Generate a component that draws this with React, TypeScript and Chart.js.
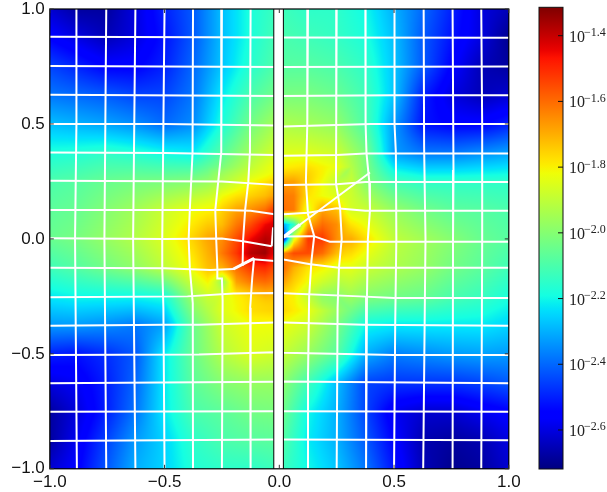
import React, { useEffect, useRef } from "react";
import { Chart, registerables } from "chart.js";

Chart.register(...registerables);

const xTicks = [-1, -0.5, 0, 0.5, 1];
const yTicks = [-1, -0.5, 0, 0.5, 1];
const cbTicks = [-1.4, -1.6, -1.8, -2.0, -2.2, -2.4, -2.6];
const vMin = -2.7187;
const vMax = -1.3136;
const bandEdges = [-0.024, 0.0178];

// log10 of the field, coarse grid (rows top to bottom)
const coarseAxis = [-1, -0.875, -0.75, -0.625, -0.5, -0.375, -0.25, -0.125, 0, 0.125, 0.25, 0.375, 0.5, 0.625, 0.75, 0.875, 1];
const coarseField = [
  [-2.62, -2.68, -2.68, -2.6, -2.5, -2.42, -2.28, -2.18, -2.12, -2.15, -2.15, -2.2, -2.3, -2.4, -2.5, -2.6, -2.65],
  [-2.55, -2.6, -2.65, -2.6, -2.52, -2.42, -2.28, -2.18, -2.1, -2.12, -2.14, -2.18, -2.28, -2.42, -2.52, -2.6, -2.7],
  [-2.45, -2.5, -2.55, -2.55, -2.5, -2.4, -2.27, -2.16, -2.08, -2.08, -2.1, -2.15, -2.27, -2.42, -2.55, -2.65, -2.68],
  [-2.38, -2.4, -2.42, -2.45, -2.45, -2.38, -2.22, -2.1, -2.02, -2.02, -2.05, -2.12, -2.27, -2.5, -2.6, -2.65, -2.62],
  [-2.28, -2.3, -2.32, -2.35, -2.4, -2.35, -2.18, -2.03, -1.93, -1.95, -1.98, -2.1, -2.33, -2.52, -2.55, -2.55, -2.5],
  [-2.18, -2.17, -2.15, -2.17, -2.2, -2.22, -2.08, -1.95, -1.85, -1.85, -1.88, -2.02, -2.33, -2.38, -2.38, -2.35, -2.32],
  [-2.1, -2.08, -2.05, -2.03, -2.02, -2.0, -1.95, -1.85, -1.75, -1.7, -1.78, -2.0, -2.12, -2.15, -2.15, -2.15, -2.15],
  [-2.07, -2.05, -2.0, -1.95, -1.88, -1.82, -1.78, -1.68, -1.6, -1.72, -1.85, -1.88, -1.97, -2.03, -2.07, -2.08, -2.1],
  [-2.05, -2.02, -1.97, -1.92, -1.85, -1.75, -1.62, -1.48, -1.42, -1.6, -1.62, -1.77, -1.9, -1.95, -2.0, -2.05, -2.08],
  [-2.12, -2.08, -2.03, -1.98, -1.9, -1.8, -1.65, -1.5, -1.45, -1.62, -1.8, -1.88, -1.93, -1.97, -2.03, -2.07, -2.12],
  [-2.22, -2.2, -2.2, -2.2, -2.18, -1.95, -1.82, -1.72, -1.68, -1.78, -1.92, -2.0, -2.03, -2.05, -2.1, -2.13, -2.18],
  [-2.33, -2.33, -2.35, -2.38, -2.32, -2.05, -1.88, -1.82, -1.82, -1.88, -2.02, -2.2, -2.22, -2.22, -2.22, -2.22, -2.25],
  [-2.5, -2.52, -2.48, -2.42, -2.22, -2.05, -1.92, -1.85, -1.88, -1.97, -2.08, -2.3, -2.37, -2.35, -2.33, -2.32, -2.33],
  [-2.6, -2.57, -2.5, -2.4, -2.22, -2.07, -2.0, -1.97, -1.97, -2.12, -2.28, -2.45, -2.47, -2.47, -2.47, -2.45, -2.42],
  [-2.68, -2.6, -2.5, -2.38, -2.22, -2.1, -2.07, -2.03, -2.02, -2.2, -2.3, -2.45, -2.58, -2.62, -2.62, -2.58, -2.55],
  [-2.68, -2.57, -2.45, -2.33, -2.25, -2.15, -2.1, -2.08, -2.07, -2.22, -2.3, -2.42, -2.55, -2.66, -2.68, -2.66, -2.6],
  [-2.62, -2.55, -2.42, -2.3, -2.25, -2.17, -2.15, -2.15, -2.12, -2.2, -2.27, -2.38, -2.52, -2.65, -2.7, -2.68, -2.62],
];

// finer field around the centre
const patchX = [-0.3125, -0.25, -0.1875, -0.125, -0.0625, -0.024, 0.0178, 0.0625, 0.125, 0.1875, 0.25, 0.3125];
const patchY = [0.3125, 0.25, 0.1875, 0.125, 0.0625, 0, -0.0625, -0.125, -0.1875, -0.25, -0.3125];
const patchField = [
  [-2.0, -1.95, -1.92, -1.88, -1.88, -1.88, -1.75, -1.75, -1.78, -1.85, -1.97, -2.2],
  [-1.95, -1.93, -1.88, -1.82, -1.78, -1.75, -1.68, -1.68, -1.75, -1.82, -1.9, -2.05],
  [-1.88, -1.82, -1.78, -1.75, -1.72, -1.68, -1.62, -1.63, -1.78, -1.82, -1.85, -1.9],
  [-1.82, -1.75, -1.68, -1.65, -1.6, -1.52, -1.6, -1.62, -1.85, -1.68, -1.72, -1.78],
  [-1.78, -1.72, -1.62, -1.55, -1.45, -1.42, -2.3, -2.15, -1.7, -1.6, -1.65, -1.75],
  [-1.72, -1.65, -1.55, -1.45, -1.38, -1.4, -2.55, -1.85, -1.52, -1.52, -1.65, -1.78],
  [-1.72, -1.62, -1.52, -1.38, -1.35, -1.45, -1.65, -1.55, -1.55, -1.6, -1.72, -1.82],
  [-1.78, -1.7, -1.6, -1.52, -1.5, -1.55, -1.6, -1.7, -1.78, -1.8, -1.85, -1.88],
  [-1.98, -1.98, -1.68, -1.62, -1.6, -1.62, -1.68, -1.75, -1.82, -1.88, -1.92, -1.95],
  [-1.95, -1.85, -1.8, -1.76, -1.72, -1.72, -1.78, -1.8, -1.9, -1.98, -2.0, -2.02],
  [-1.95, -1.88, -1.85, -1.83, -1.82, -1.82, -1.85, -1.87, -1.95, -2.08, -2.07, -2.1],
];

type Pt = [number, number];
// white mesh lines, in data units
const horizontalLines: Pt[][] = [
  [[-1, 0.879], [0, 0.876], [1, 0.875]],
  [[-1, 0.752], [0, 0.748], [1, 0.75]],
  [[-1, 0.627], [0, 0.622], [0.5, 0.625], [1, 0.625]],
  [[-1, 0.5], [-0.5, 0.5], [-0.02, 0.493], [0.02, 0.489], [0.4, 0.5], [1, 0.5]],
  [[-1, 0.376], [-0.5, 0.374], [-0.02, 0.365], [0.02, 0.362], [0.25, 0.365], [0.375, 0.372], [1, 0.372]],
  [[-1, 0.253], [-0.25, 0.25], [-0.02, 0.235], [0.02, 0.234], [0.25, 0.238], [0.375, 0.248], [1, 0.248]],
  [[-1, 0.126], [-0.25, 0.126], [-0.125, 0.122], [-0.02, 0.107], [0.02, 0.107], [0.125, 0.114], [0.25, 0.133], [0.375, 0.122], [1, 0.122]],
  [[-1, 0.003], [-0.5, 0], [-0.25, 0.002], [-0.158, -0.01], [-0.033, -0.032]],
  [[0.018, 0.01], [0.15, 0.012], [0.22, -0.012], [0.5, -0.012], [1, -0.012]],
  [[-1, -0.126], [-0.5, -0.128], [-0.3, -0.135], [-0.2, -0.131], [-0.11, -0.085]],
  [[-0.115, -0.088], [-0.02, -0.096]],
  [[0.018, -0.09], [0.135, -0.11], [0.26, -0.125], [1, -0.125]],
  [[-1, -0.254], [-0.4, -0.25], [-0.2, -0.238], [-0.02, -0.235], [0.02, -0.236], [0.35, -0.25], [0.5, -0.257], [1, -0.257]],
  [[-1, -0.378], [-0.5, -0.373], [-0.35, -0.373], [-0.02, -0.364], [0.02, -0.364], [0.37, -0.373], [1, -0.378]],
  [[-1, -0.505], [-0.35, -0.503], [-0.02, -0.493], [0.02, -0.495], [0.5, -0.505], [1, -0.505]],
  [[-1, -0.628], [-0.02, -0.621], [0.02, -0.62], [1, -0.628]],
  [[-1, -0.752], [0, -0.75], [1, -0.752]],
  [[-1, -0.879], [0, -0.873], [1, -0.876]],
];
const verticalLines: Pt[][] = [
  [[-0.884, 1], [-0.884, 0.5], [-0.89, 0], [-0.882, -1]],
  [[-0.754, 1], [-0.762, 0], [-0.754, -1]],
  [[-0.627, 1], [-0.637, 0], [-0.627, -1]],
  [[-0.5, 1], [-0.505, 0.5], [-0.51, 0], [-0.51, -0.125], [-0.505, -0.3], [-0.5, -1]],
  [[-0.376, 1], [-0.378, 0.375], [-0.39, 0.125], [-0.395, 0], [-0.39, -0.125], [-0.377, -0.28], [-0.376, -1]],
  [[-0.25, 1], [-0.253, 0.375], [-0.266, 0.25], [-0.279, 0.125], [-0.275, 0], [-0.27, -0.125], [-0.27, -0.172], [-0.25, -0.172], [-0.247, -0.27], [-0.25, -1]],
  [[-0.125, 1], [-0.128, 0.375], [-0.135, 0.25], [-0.149, 0.125], [-0.158, -0.01], [-0.16, -0.118]],
  [[-0.11, -0.085], [-0.118, -0.17], [-0.127, -0.3], [-0.125, -1]],
  [[-0.033, -0.032], [-0.027, 0.05]],
  [[0.125, 1], [0.122, 0.5], [0.116, 0.25], [0.125, 0.107], [0.152, 0.012], [0.14, -0.097], [0.13, -0.25], [0.125, -0.6], [0.125, -1]],
  [[0.25, 1], [0.248, 0.5], [0.247, 0.24], [0.265, 0.134], [0.272, 0], [0.26, -0.125], [0.254, -0.3], [0.25, -1]],
  [[0.375, 1], [0.376, 0.5], [0.38, 0.372], [0.392, 0.25], [0.395, 0.125], [0.386, 0], [0.382, -0.25], [0.378, -0.4], [0.378, -1]],
  [[0.502, 1], [0.502, 0.5], [0.508, 0.372], [0.51, 0], [0.505, -0.375], [0.5, -1]],
  [[0.629, 1], [0.631, 0.4], [0.637, 0], [0.632, -0.5], [0.627, -1]],
  [[0.755, 1], [0.759, 0.3], [0.757, 0], [0.755, -1]],
  [[0.88, 1], [0.884, 0.5], [0.884, 0], [0.88, -1]],
];
const crackLine: Pt[] = [[0.018, 0.008], [0.395, 0.289]];
const crackThick: Pt[] = [[0.018, 0.008], [0.09, 0.062]];
const crackLeft: Pt[] = [[-0.2, -0.131], [-0.11, -0.085]];

const R: Pt[] = [[0, 0], [0.35, 0], [0.66, 1], [0.89, 1], [1, 0.5]];
const G: Pt[] = [[0, 0], [0.125, 0], [0.375, 1], [0.64, 1], [0.91, 0], [1, 0]];
const B: Pt[] = [[0, 0.5], [0.11, 1], [0.34, 1], [0.65, 0], [1, 0]];

function ramp(c: Pt[], t: number) {
  for (let i = 1; i < c.length; i++) {
    if (t <= c[i][0]) {
      const f = (t - c[i - 1][0]) / (c[i][0] - c[i - 1][0]);
      return c[i - 1][1] + f * (c[i][1] - c[i - 1][1]);
    }
  }
  return c[c.length - 1][1];
}
function jet(t: number): [number, number, number] {
  const v = Math.max(0, Math.min(1, t));
  return [ramp(R, v) * 255, ramp(G, v) * 255, ramp(B, v) * 255];
}

function locate(axis: number[], v: number): [number, number] {
  const dir = axis[1] > axis[0] ? 1 : -1;
  let i = 0;
  while (i < axis.length - 2 && dir * v > dir * axis[i + 1]) i++;
  const f = (v - axis[i]) / (axis[i + 1] - axis[i]);
  return [i, Math.max(0, Math.min(1, f))];
}
function sample(xs: number[], ys: number[], f: number[][], x: number, y: number) {
  const [i, u] = locate(xs, x);
  const [j, w] = locate(ys, y);
  const a = f[j][i] * (1 - u) + f[j][i + 1] * u;
  const b = f[j + 1][i] * (1 - u) + f[j + 1][i + 1] * u;
  return a * (1 - w) + b * w;
}
const coarseRows = [...coarseAxis].reverse();

const zeroPadding = (s: any) => {
  s.paddingTop = 0;
  s.paddingBottom = 0;
  s.paddingLeft = 0;
  s.paddingRight = 0;
};

const heatPlugin = {
  id: "heat",
  beforeDatasetsDraw(chart: any) {
    const { ctx, chartArea: a, scales } = chart;
    const w = Math.ceil(a.right - a.left);
    const h = Math.ceil(a.bottom - a.top);
    const img = ctx.createImageData(w, h);
    const px0 = patchX[0];
    const px1 = patchX[patchX.length - 1];
    const py0 = patchY[patchY.length - 1];
    const py1 = patchY[0];
    for (let py = 0; py < h; py++) {
      const y = scales.y.getValueForPixel(a.top + py + 0.5);
      for (let px = 0; px < w; px++) {
        const x = scales.x.getValueForPixel(a.left + px + 0.5);
        const edge = Math.min(x - px0, px1 - x, y - py0, py1 - y) / 0.0625;
        const m = Math.max(0, Math.min(1, edge));
        let val = m < 1 ? sample(coarseAxis, coarseRows, coarseField, x, y) : 0;
        if (m > 0) val = val * (1 - m) + sample(patchX, patchY, patchField, x, y) * m;
        const [r, g, b] = jet((val - vMin) / (vMax - vMin));
        const k = (py * w + px) * 4;
        img.data[k] = r;
        img.data[k + 1] = g;
        img.data[k + 2] = b;
        img.data[k + 3] = 255;
      }
    }
    ctx.putImageData(img, Math.round(a.left), Math.round(a.top));
  },
  afterDatasetsDraw(chart: any) {
    const { ctx, chartArea: a, scales } = chart;
    const l = scales.x.getPixelForValue(bandEdges[0]);
    const r = scales.x.getPixelForValue(bandEdges[1]);
    ctx.save();
    ctx.fillStyle = "#fff";
    ctx.fillRect(l, a.top, r - l, a.bottom - a.top);
    ctx.strokeStyle = "#000";
    ctx.lineWidth = 1;
    ctx.beginPath();
    ctx.moveTo(l, a.top);
    ctx.lineTo(l, a.bottom);
    ctx.moveTo(r, a.top);
    ctx.lineTo(r, a.bottom);
    ctx.stroke();
    ctx.lineWidth = 1.2;
    ctx.strokeRect(a.left, a.top, a.right - a.left, a.bottom - a.top);
    ctx.lineWidth = 1;
    ctx.strokeStyle = "#333";
    ctx.beginPath();
    for (const t of xTicks) {
      const p = scales.x.getPixelForValue(t);
      ctx.moveTo(p, a.top);
      ctx.lineTo(p, a.top + 4);
      ctx.moveTo(p, a.bottom);
      ctx.lineTo(p, a.bottom - 4);
    }
    for (const t of yTicks) {
      const p = scales.y.getPixelForValue(t);
      ctx.moveTo(a.left, p);
      ctx.lineTo(a.left + 4, p);
      ctx.moveTo(a.right, p);
      ctx.lineTo(a.right - 4, p);
    }
    ctx.stroke();
    ctx.restore();
  },
};

const colorbarPlugin = {
  id: "colorbarFrame",
  afterDatasetsDraw(chart: any) {
    const { ctx, chartArea: a, scales } = chart;
    ctx.save();
    ctx.strokeStyle = "#111";
    ctx.lineWidth = 1;
    ctx.strokeRect(a.left, a.top, a.right - a.left, a.bottom - a.top);
    ctx.textBaseline = "alphabetic";
    ctx.fillStyle = "#222";
    for (const t of cbTicks) {
      const p = scales.y.getPixelForValue(t);
      ctx.beginPath();
      ctx.moveTo(a.right, p);
      ctx.lineTo(a.right - 5, p);
      ctx.stroke();
      ctx.font = "16px 'Liberation Serif'";
      ctx.fillText("10", a.right + 6, p + 6);
      ctx.font = "12px 'Liberation Serif'";
      ctx.fillText("\u2212" + Math.abs(t).toFixed(1), a.right + 21, p + 0.5);
    }
    ctx.restore();
  },
};

const tickFont = { family: "'Liberation Sans'", size: 17 };
const fmt = (v: any) => {
  const n = Number(v);
  return (n < 0 ? "\u2212" : "") + Math.abs(n).toFixed(1);
};

export default function App() {
  const mainRef = useRef<HTMLCanvasElement>(null);
  const barRef = useRef<HTMLCanvasElement>(null);

  useEffect(() => {
    const line = (data: Pt[], width = 2) => ({
      data: data.map(([x, y]) => ({ x, y })),
      showLine: true,
      borderColor: "#fff",
      borderWidth: width,
      pointRadius: 0,
      tension: 0,
      fill: false,
    });
    const main = new Chart(mainRef.current as any, {
      type: "scatter",
      data: {
        datasets: [
          ...horizontalLines.map((l) => line(l)),
          ...verticalLines.map((l) => line(l)),
          line(crackLine),
          line(crackThick, 3.5),
          line(crackLeft, 3),
        ],
      },
      options: {
        responsive: false,
        animation: false,
        layout: { autoPadding: false, padding: { left: 0, top: 9, right: 607 - 508.8, bottom: 0 } },
        plugins: { legend: { display: false }, tooltip: { enabled: false } },
        scales: {
          x: {
            type: "linear",
            min: -1,
            max: 1,
            afterFit(s: any) { s.height = 23.2; zeroPadding(s); },
            afterBuildTicks(s: any) { s.ticks = xTicks.map((value) => ({ value })); },
            grid: { display: false, drawTicks: false },
            border: { display: false },
            ticks: { font: tickFont, color: "#111", padding: 3, maxRotation: 0, autoSkip: false, callback: fmt },
          },
          y: {
            type: "linear",
            min: -1,
            max: 1,
            afterFit(s: any) { s.width = 49.8; zeroPadding(s); },
            afterBuildTicks(s: any) { s.ticks = yTicks.map((value) => ({ value })); },
            grid: { display: false, drawTicks: false },
            border: { display: false },
            ticks: { font: tickFont, color: "#111", padding: 5, autoSkip: false, callback: fmt },
          },
        },
      },
      plugins: [heatPlugin],
    } as any);

    const stops = Array.from({ length: 65 }, (_, i) => i / 64);
    const bar = new Chart(barRef.current as any, {
      type: "bar",
      data: {
        labels: ["scale"],
        datasets: [
          {
            data: [[vMin, vMax]],
            barPercentage: 1,
            categoryPercentage: 1,
            backgroundColor(c: any) {
              const a = c.chart.chartArea;
              if (!a) return "#000";
              const g = c.chart.ctx.createLinearGradient(0, a.bottom, 0, a.top);
              for (const s of stops) {
                const [r, gg, b] = jet(s);
                g.addColorStop(s, `rgb(${r | 0},${gg | 0},${b | 0})`);
              }
              return g;
            },
          },
        ],
      },
      options: {
        responsive: false,
        animation: false,
        layout: { padding: { left: 9, right: 44, top: 7.3, bottom: 492 - 469 } },
        plugins: { legend: { display: false }, tooltip: { enabled: false } },
        scales: {
          x: { display: false },
          y: { display: false, min: vMin, max: vMax },
        },
      },
      plugins: [colorbarPlugin],
    } as any);

    return () => {
      main.destroy();
      bar.destroy();
    };
  }, []);

  return (
    <div style={{ position: "fixed", left: 0, top: 0, width: 607, height: 492, background: "#fff" }}>
      <canvas ref={mainRef} width={607} height={492} style={{ position: "absolute", left: 0, top: 0 }} />
      <canvas ref={barRef} width={77} height={492} style={{ position: "absolute", left: 530, top: 0 }} />
    </div>
  );
}
